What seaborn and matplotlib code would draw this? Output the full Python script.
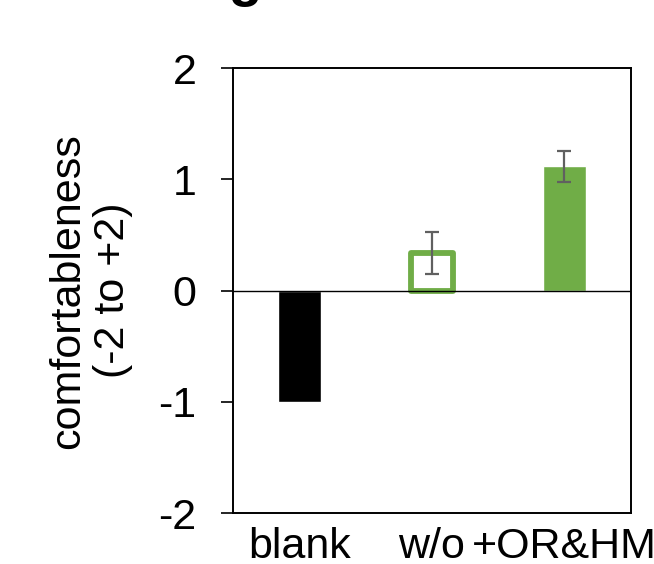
import numpy as np
import pandas as pd
import seaborn as sns
import matplotlib.pyplot as plt

categories = ["blank", "w/o", "+OR&HM"]
means = [-1.0, 0.34, 1.12]
errors = [0.0, 0.19, 0.14]
colors = ["#000000", "#70AD47", "#70AD47"]

df = pd.DataFrame({"group": categories, "score": means})

sns.set_style("white")
plt.rcParams["font.family"] = ["Liberation Sans", "DejaVu Sans"]
plt.rcParams["axes.unicode_minus"] = False
plt.rcParams["text.color"] = "black"
plt.rcParams["axes.labelcolor"] = "black"
plt.rcParams["xtick.color"] = "black"
plt.rcParams["ytick.color"] = "black"

fig = plt.figure(figsize=(6.54, 5.64), dpi=100)
ax = fig.add_axes([0.3567, 0.0904, 0.6077, 0.7885])

sns.barplot(data=df, x="group", y="score", hue="group", palette=colors,
            width=0.32, legend=False, ax=ax, saturation=1)

# hollow bar for w/o
p = ax.patches[1]
p.set_facecolor("white")
p.set_edgecolor("#70AD47")
p.set_linewidth(4.2)
p.set_joinstyle("round")

pos = np.arange(len(categories))
ax.errorbar(pos[1:], means[1:], yerr=errors[1:], fmt="none",
            ecolor="#606060", elinewidth=1.6, capsize=4.7, capthick=1.6)

ax.axhline(0, color="black", lw=1.0, zorder=1)

ax.set_ylim(-2, 2)
ax.set_xlim(-0.5, 2.5)
ax.set_yticks([-2, -1, 0, 1, 2])
ax.set_xlabel("")
ax.set_ylabel("comfortableness\n(-2 to +2)", fontsize=31, labelpad=18,
              linespacing=1.15)
ax.tick_params(axis="y", labelsize=31, length=8.6, width=1.2, pad=18,
               direction="out", left=True)
ax.tick_params(axis="x", labelsize=31, length=0, pad=10)
for s in ax.spines.values():
    s.set_visible(True)
    s.set_color("black")
    s.set_linewidth(1.4)

# title sits mostly above the visible area, only the descender shows
fig.text(0.138, 1.009, "Rating of comfort", fontsize=40, fontweight="bold",
         ha="left", va="baseline")

fig.savefig("out.png", dpi=100)
